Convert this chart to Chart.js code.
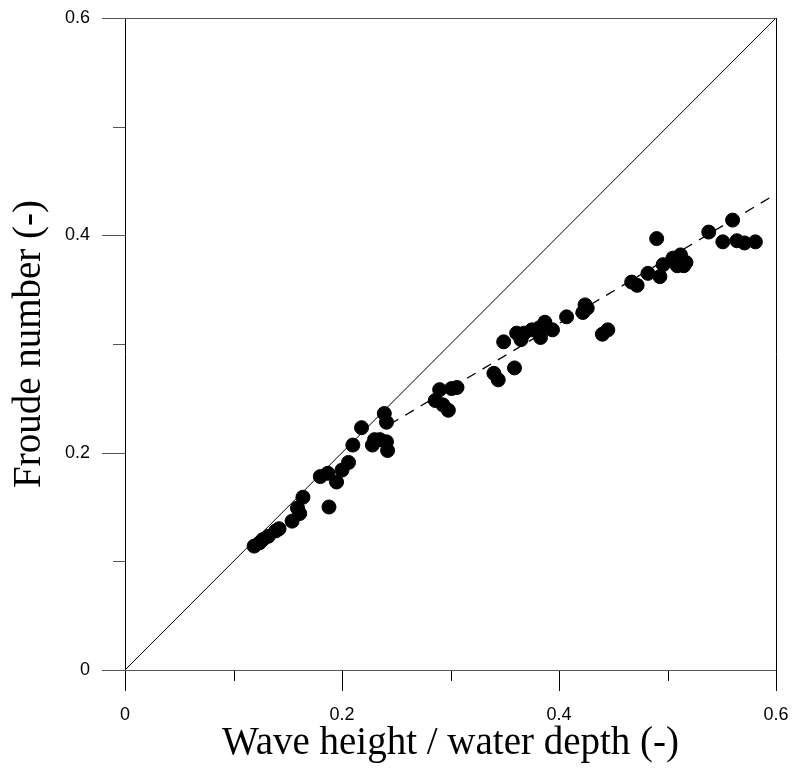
<!DOCTYPE html>
<html>
<head>
<meta charset="utf-8">
<script src="https://cdn.jsdelivr.net/npm/chart.js@4.4.1/dist/chart.umd.min.js"></script>
<style>
  html, body { margin: 0; padding: 0; background: #fff; }
  #wrap { width: 796px; height: 770px; position: relative; }
</style>
</head>
<body>
<div id="wrap"><canvas id="froudeChart"></canvas></div>
<script>
// Measured points: wave height / water depth vs Froude number
const waveRatio = [
  0.119, 0.124, 0.127, 0.132, 0.139, 0.142,
  0.154, 0.159, 0.161, 0.164, 0.180, 0.187, 0.188, 0.195, 0.200, 0.206,
  0.210, 0.218, 0.230, 0.228, 0.241, 0.242, 0.239, 0.241, 0.235,
  0.290, 0.306, 0.286, 0.293, 0.298, 0.301,
  0.340, 0.344, 0.349, 0.359, 0.361,
  0.365, 0.368, 0.375, 0.382, 0.383, 0.387, 0.394, 0.407,
  0.422, 0.426, 0.424, 0.440, 0.445,
  0.467, 0.472, 0.482, 0.493, 0.496, 0.490,
  0.505, 0.512, 0.517, 0.509, 0.515,
  0.538, 0.560, 0.551, 0.564, 0.571, 0.581
];
const froude = [
  0.114, 0.117, 0.120, 0.123, 0.128, 0.130,
  0.137, 0.149, 0.144, 0.159, 0.178, 0.181, 0.150, 0.173, 0.184, 0.191,
  0.207, 0.223, 0.212, 0.207, 0.210, 0.202, 0.236, 0.228, 0.212,
  0.258, 0.260, 0.248, 0.244, 0.239, 0.259,
  0.273, 0.267, 0.302, 0.278, 0.310,
  0.304, 0.310, 0.313, 0.315, 0.306, 0.320, 0.313, 0.325,
  0.329, 0.333, 0.336, 0.309, 0.313,
  0.357, 0.354, 0.365, 0.362, 0.373, 0.397,
  0.379, 0.382, 0.375, 0.372, 0.372,
  0.403, 0.414, 0.394, 0.395, 0.393, 0.394
];

// 1:1 reference line and dashed fit line
const diagX = [0, 0.6];
const diagY = [0, 0.6];
const fitX = [0.244, 0.6];
const fitY = [0.226, 0.438];

// Axis ticks
const axisMin = 0;
const axisMax = 0.6;
const majorTicks = [0, 0.2, 0.4, 0.6];
const minorTicks = [0.1, 0.3, 0.5];

const toXY = (xs, ys) => xs.map((x, i) => ({ x, y: ys[i] }));

// Frame and outward ticks (long major, short minor)
const frameTicks = {
  id: 'frameTicks',
  afterDraw(chart) {
    const { ctx, chartArea: a, scales: { x, y } } = chart;
    ctx.save();
    ctx.lineWidth = 1;
    ctx.strokeStyle = '#000';
    ctx.beginPath();
    majorTicks.forEach((v) => {
      const px = Math.round(x.getPixelForValue(v)) + 0.5;
      const isEdge = v === axisMin || v === axisMax;
      ctx.moveTo(px, isEdge ? a.top : a.bottom);
      ctx.lineTo(px, a.bottom + 21);
    });
    minorTicks.forEach((v) => {
      const px = Math.round(x.getPixelForValue(v)) + 0.5;
      ctx.moveTo(px, a.bottom);
      ctx.lineTo(px, a.bottom + 11);
    });
    ctx.stroke();
    ctx.strokeStyle = '#555';
    ctx.beginPath();
    majorTicks.forEach((v) => {
      const py = Math.round(y.getPixelForValue(v)) + 0.5;
      const isEdge = v === axisMin || v === axisMax;
      ctx.moveTo(a.left - 23, py);
      ctx.lineTo(isEdge ? a.right : a.left, py);
    });
    minorTicks.forEach((v) => {
      const py = Math.round(y.getPixelForValue(v)) + 0.5;
      ctx.moveTo(a.left - 12, py);
      ctx.lineTo(a.left, py);
    });
    ctx.stroke();
    ctx.restore();
  },
};

const tickFont = { family: '"Liberation Sans", Arial, sans-serif', size: 18 };
const titleFont = { family: '"Liberation Serif", "Times New Roman", serif', size: 39 };

new Chart(document.getElementById('froudeChart'), {
  type: 'scatter',
  data: {
    datasets: [
      {
        data: toXY(diagX, diagY),
        showLine: true,
        borderColor: '#000',
        borderWidth: 1,
        pointRadius: 0,
      },
      {
        data: toXY(fitX, fitY),
        showLine: true,
        borderColor: '#000',
        borderWidth: 1.3,
        borderDash: [10, 8],
        pointRadius: 0,
      },
      {
        data: toXY(waveRatio, froude),
        backgroundColor: '#000',
        borderColor: '#000',
        pointRadius: 7,
        pointHoverRadius: 7,
      },
    ],
  },
  options: {
    responsive: true,
    maintainAspectRatio: false,
    animation: false,
    layout: { padding: { top: 18, right: 20, bottom: 0, left: 0 } },
    plugins: {
      legend: { display: false },
      tooltip: { enabled: false },
    },
    scales: {
      x: {
        type: 'linear',
        min: axisMin,
        max: axisMax,
        grid: { display: false, drawTicks: false },
        border: { display: false },
        ticks: { stepSize: 0.2, color: '#000', font: tickFont, padding: 34 },
        title: {
          display: true,
          text: 'Wave height / water depth (-)',
          color: '#000',
          font: titleFont,
          padding: { top: 0, bottom: 3 },
        },
        afterFit(scale) {
          scale.height = 100;
          scale.paddingLeft = 0;
          scale.paddingRight = 0;
        },
      },
      y: {
        type: 'linear',
        min: axisMin,
        max: axisMax,
        grid: { display: false, drawTicks: false },
        border: { display: false },
        ticks: { stepSize: 0.2, color: '#000', font: tickFont, padding: 35 },
        title: {
          display: true,
          text: 'Froude number (-)',
          color: '#000',
          font: titleFont,
          padding: { top: 6, bottom: 0 },
        },
        afterFit(scale) {
          scale.width = 125;
          scale.paddingTop = 0;
          scale.paddingBottom = 0;
        },
      },
    },
  },
  plugins: [frameTicks],
});
</script>
</body>
</html>
